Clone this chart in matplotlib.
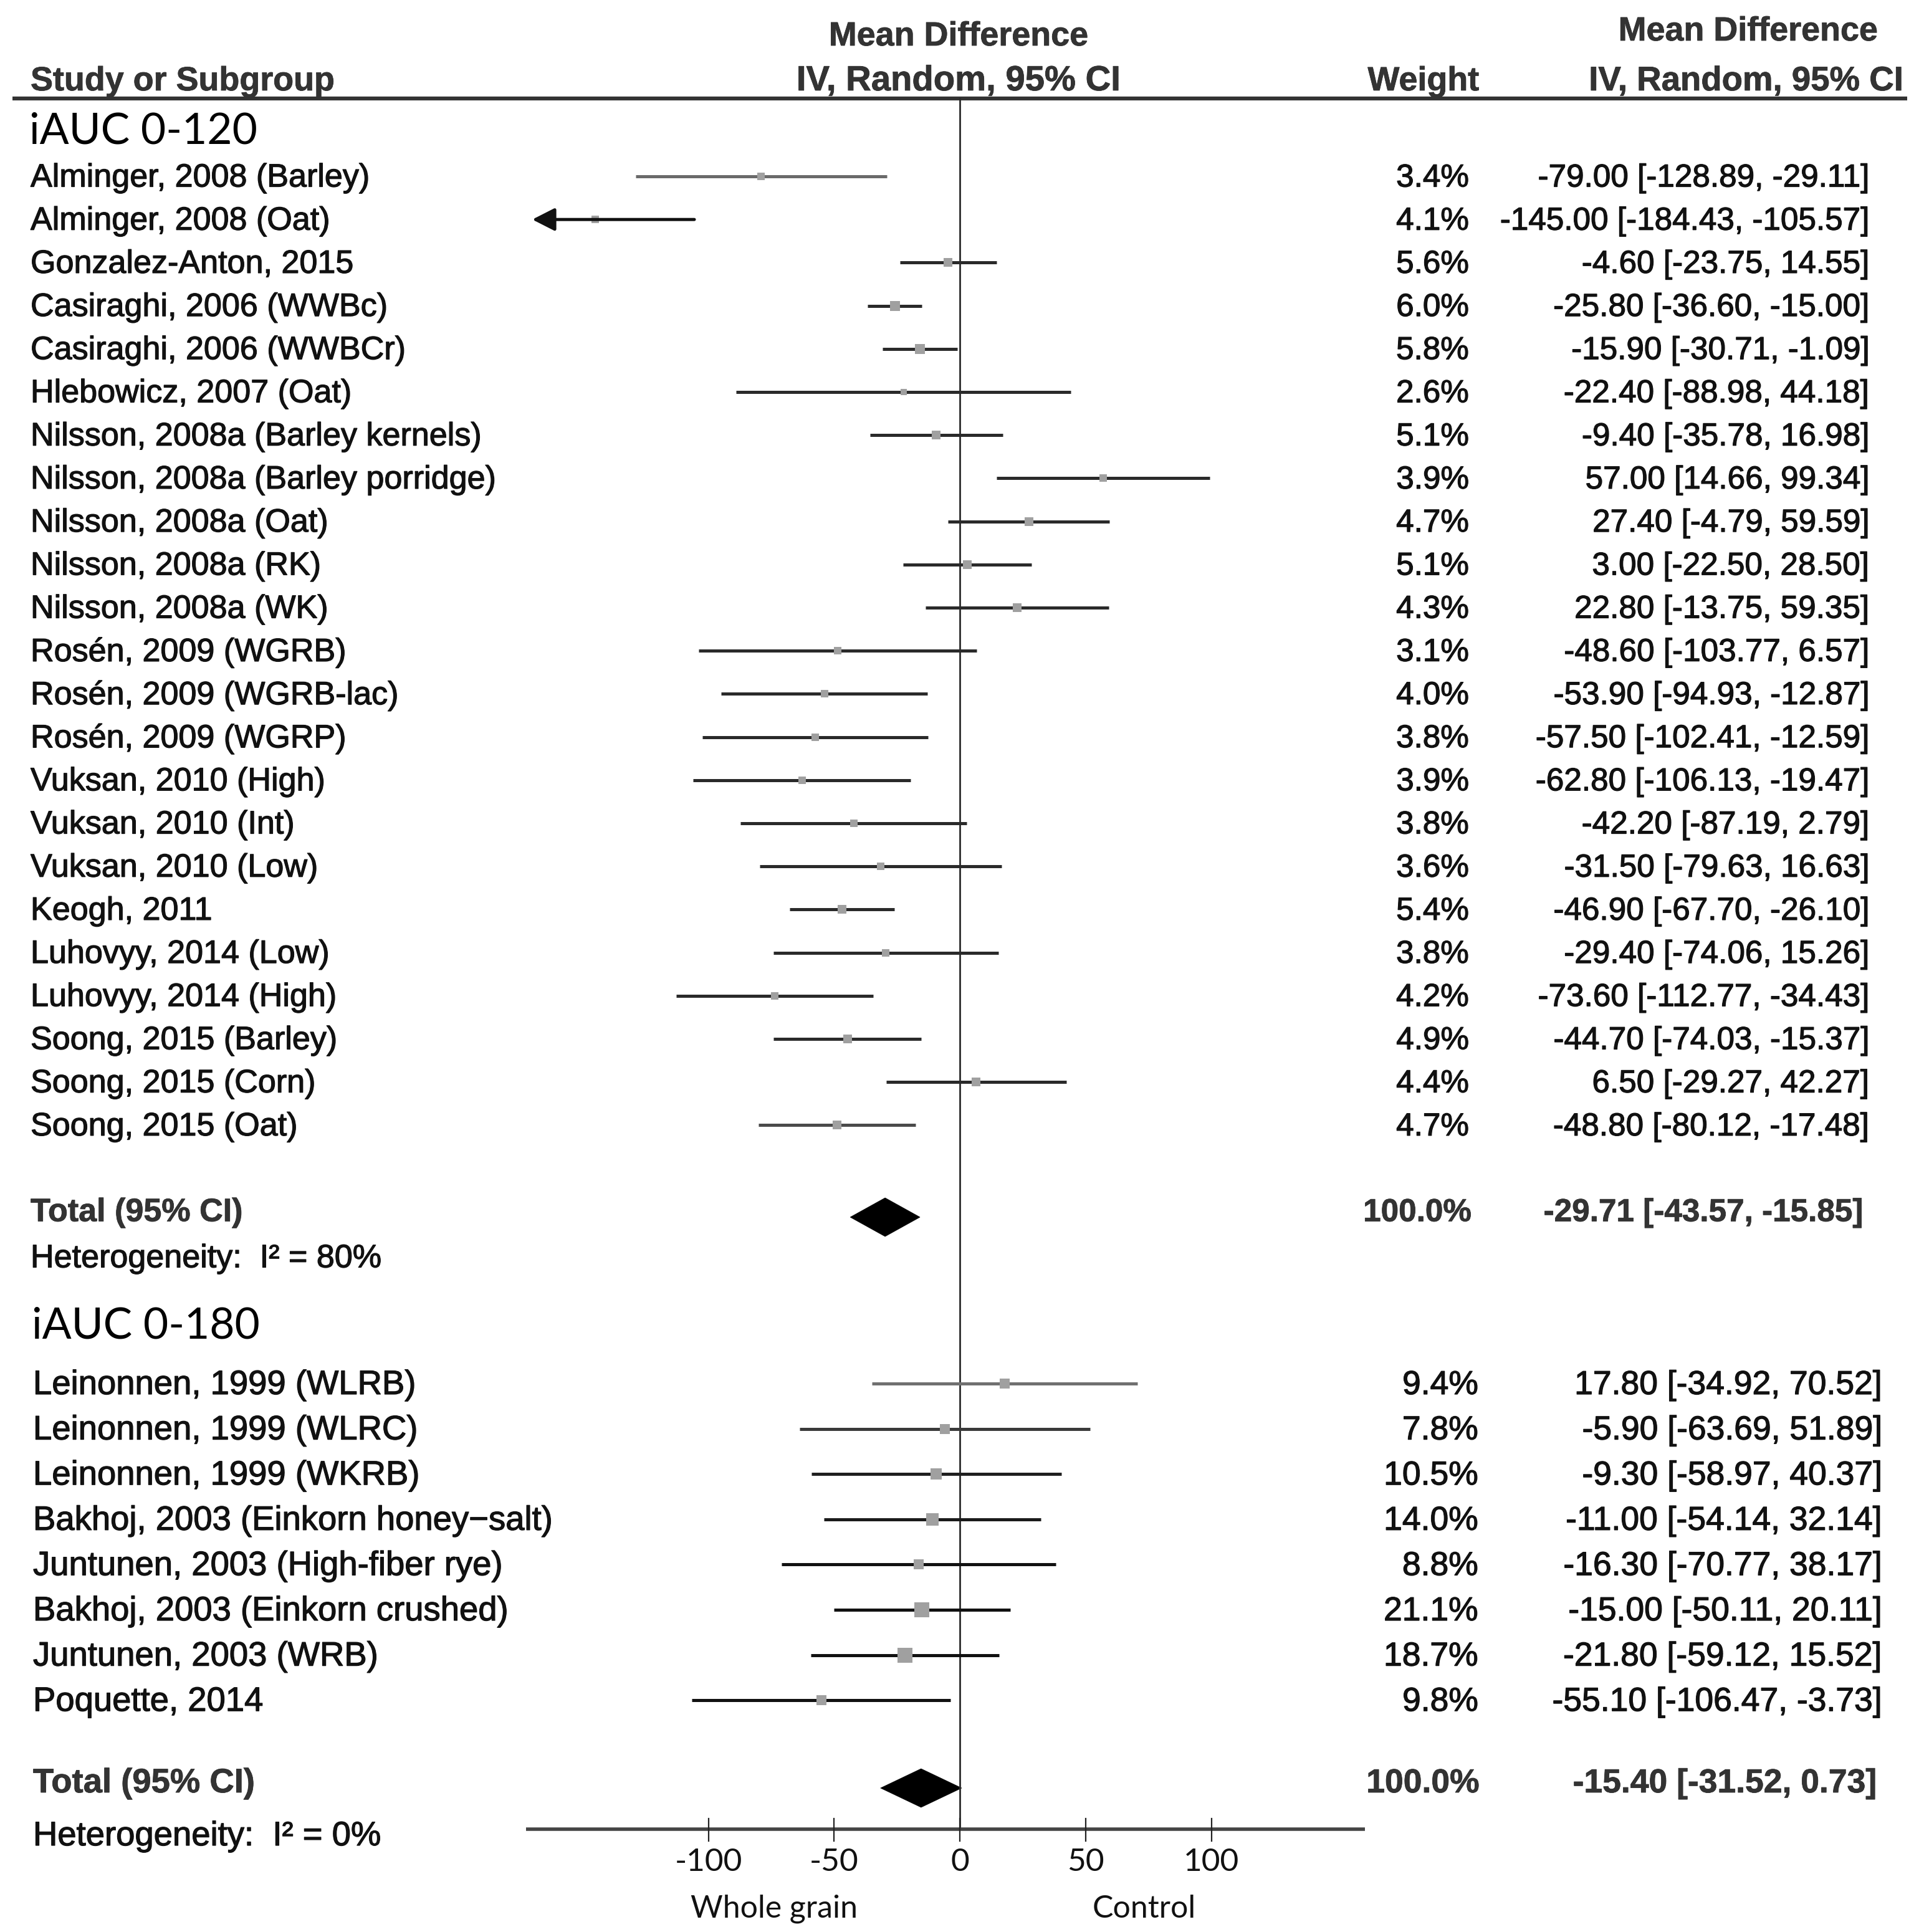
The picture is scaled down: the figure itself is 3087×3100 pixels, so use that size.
import matplotlib
matplotlib.use("Agg")
import matplotlib.pyplot as plt
from matplotlib.patches import Polygon
import matplotlib.patheffects as pe

# ---------------- data ----------------
g1_labels = ["Alminger, 2008 (Barley)", "Alminger, 2008 (Oat)", "Gonzalez-Anton, 2015",
             "Casiraghi, 2006 (WWBc)", "Casiraghi, 2006 (WWBCr)", "Hlebowicz, 2007 (Oat)",
             "Nilsson, 2008a (Barley kernels)", "Nilsson, 2008a (Barley porridge)",
             "Nilsson, 2008a (Oat)", "Nilsson, 2008a (RK)", "Nilsson, 2008a (WK)",
             "Rosén, 2009 (WGRB)", "Rosén, 2009 (WGRB-lac)", "Rosén, 2009 (WGRP)",
             "Vuksan, 2010 (High)", "Vuksan, 2010 (Int)", "Vuksan, 2010 (Low)",
             "Keogh, 2011", "Luhovyy, 2014 (Low)", "Luhovyy, 2014 (High)",
             "Soong, 2015 (Barley)", "Soong, 2015 (Corn)", "Soong, 2015 (Oat)"]
g1_md = [-79.00, -145.00, -4.60, -25.80, -15.90, -22.40, -9.40, 57.00, 27.40, 3.00, 22.80,
         -48.60, -53.90, -57.50, -62.80, -42.20, -31.50, -46.90, -29.40, -73.60, -44.70, 6.50, -48.80]
g1_lo = [-128.89, -184.43, -23.75, -36.60, -30.71, -88.98, -35.78, 14.66, -4.79, -22.50, -13.75,
         -103.77, -94.93, -102.41, -106.13, -87.19, -79.63, -67.70, -74.06, -112.77, -74.03, -29.27, -80.12]
g1_hi = [-29.11, -105.57, 14.55, -15.00, -1.09, 44.18, 16.98, 99.34, 59.59, 28.50, 59.35,
         6.57, -12.87, -12.59, -19.47, 2.79, 16.63, -26.10, 15.26, -34.43, -15.37, 42.27, -17.48]
g1_w = [3.4, 4.1, 5.6, 6.0, 5.8, 2.6, 5.1, 3.9, 4.7, 5.1, 4.3, 3.1, 4.0, 3.8, 3.9, 3.8, 3.6,
        5.4, 3.8, 4.2, 4.9, 4.4, 4.7]
g1_total = (-29.71, -43.57, -15.85)
g1_i2 = 80

g2_labels = ["Leinonnen, 1999 (WLRB)", "Leinonnen, 1999 (WLRC)", "Leinonnen, 1999 (WKRB)",
             "Bakhoj, 2003 (Einkorn honey\u2212salt)", "Juntunen, 2003 (High-fiber rye)",
             "Bakhoj, 2003 (Einkorn crushed)", "Juntunen, 2003 (WRB)", "Poquette, 2014"]
g2_md = [17.80, -5.90, -9.30, -11.00, -16.30, -15.00, -21.80, -55.10]
g2_lo = [-34.92, -63.69, -58.97, -54.14, -70.77, -50.11, -59.12, -106.47]
g2_hi = [70.52, 51.89, 40.37, 32.14, 38.17, 20.11, 15.52, -3.73]
g2_w = [9.4, 7.8, 10.5, 14.0, 8.8, 21.1, 18.7, 9.8]
g2_total = (-15.40, -31.52, 0.73)
g2_i2 = 0

group_titles = ["iAUC 0-120", "iAUC 0-180"]
ticks = [-100, -50, 0, 50, 100]
axis_range = (-172.5, 161.0)
clip_low = -170.0
side_labels = ["Whole grain", "Control"]

# ---------------- styles / layout ----------------
g1_colors = ["#6a6a6a", "#111111", "#2a2a2a", "#2a2a2a", "#2a2a2a", "#2a2a2a", "#2a2a2a",
             "#2a2a2a", "#2a2a2a", "#2a2a2a", "#2a2a2a", "#2a2a2a", "#2a2a2a", "#2a2a2a",
             "#2a2a2a", "#2a2a2a", "#2a2a2a", "#2a2a2a", "#2a2a2a", "#2a2a2a", "#2a2a2a",
             "#2a2a2a", "#4a4a4a"]
g2_colors = ["#707070", "#3a3a3a", "#202020", "#1a1a1a", "#111111", "#111111", "#111111", "#111111"]

W, H = 3087, 3100
DPI = 100
X0, SCALE = 1540.0, 4.035   # pixel of zero, pixels per unit


def X(px):
    return (px - X0) / SCALE


ARIAL = ["Liberation Sans", "DejaVu Sans"]
CALIBRI = ["Lato", "DejaVu Sans"]
TXT = "#111111"
HDR = "#333333"
HFS = 38.8
THICK = [pe.withStroke(linewidth=0.9, foreground=TXT)]
THICK_H = [pe.withStroke(linewidth=0.6, foreground=HDR)]

fig = plt.figure(figsize=(W / DPI, H / DPI), dpi=DPI)
ax = fig.add_axes([0, 0, 1, 1])
ax.set_xlim(X(0), X(W))
ax.set_ylim(H, 0)
ax.axis("off")


def hdr(px, y, s, ha, fs=HFS):
    ax.text(X(px), y, s, ha=ha, va="center", fontsize=fs, fontweight="bold",
            color=HDR, family=ARIAL, path_effects=THICK_H)


# headers
hdr(1538, 59, "Mean Difference", "center")
hdr(1538, 131, "IV, Random, 95% CI", "center", 40.5)
hdr(49, 131, "Study or Subgroup", "left")
hdr(2373, 131, "Weight", "right")
hdr(3013, 51, "Mean Difference", "right")
hdr(3054, 131, "IV, Random, 95% CI", "right", 39.3)
ax.plot([X(20), X(3060)], [158, 158], color="#333333", lw=4.5, solid_capstyle="butt")

# zero line
ax.plot([0, 0], [158, 2935], color="#2a2a2a", lw=2.0)

sq = 72.0 / DPI  # px -> points


def draw_group(labels, md, lo, hi, w, colors, total, i2, title, msc,
               y_title, y0, step, y_total, y_het, x_lab, x_w, x_ci, x_wt, x_cit, fs, fsn):
    ax.text(X(x_lab - 2), y_title, title, ha="left", va="center", fontsize=50,
            color="#000000", family=CALIBRI)
    for i, lab in enumerate(labels):
        y = y0 + i * step
        ax.text(X(x_lab), y + 3, lab, ha="left", va="center", fontsize=fs, color=TXT,
                family=ARIAL, path_effects=THICK)
        l, h = lo[i], hi[i]
        if l < axis_range[0]:
            ax.annotate("", xy=(clip_low, y), xytext=(h, y),
                        arrowprops=dict(arrowstyle="-|>,head_length=0.55,head_width=0.28",
                                        color=colors[i], lw=3.6, shrinkA=0, shrinkB=0,
                                        mutation_scale=40))
        else:
            ax.plot([l, h], [y, y], color=colors[i], lw=3.6, solid_capstyle="butt")
        ax.plot([md[i]], [y], marker="s", markersize=msc * w[i] ** 0.5 * sq,
                color="#a0a0a0", markeredgewidth=0)
        ax.text(X(x_w), y + 3, f"{w[i]:.1f}%", ha="right", va="center", fontsize=fsn,
                color=TXT, family=ARIAL, path_effects=THICK)
        ax.text(X(x_ci), y + 3, f"{md[i]:.2f} [{l:.2f}, {h:.2f}]", ha="right", va="center",
                fontsize=fsn, color=TXT, family=ARIAL, path_effects=THICK)
    m, l, h = total
    yc = y_total + 10
    ax.add_patch(Polygon([[l, yc], [m, yc - 31], [h, yc], [m, yc + 31]], closed=True,
                         facecolor="black", edgecolor="black", lw=0.5))
    ax.text(X(x_lab), y_total + 3, "Total (95% CI)", ha="left", va="center", fontsize=fs,
            fontweight="bold", color=HDR, family=ARIAL, path_effects=THICK_H)
    ax.text(X(x_wt), y_total + 3, "100.0%", ha="right", va="center", fontsize=fsn,
            fontweight="bold", color=HDR, family=ARIAL, path_effects=THICK_H)
    ax.text(X(x_cit), y_total + 3, f"{m:.2f} [{l:.2f}, {h:.2f}]", ha="right", va="center",
            fontsize=fsn, fontweight="bold", color=HDR, family=ARIAL, path_effects=THICK_H)
    ax.text(X(x_lab), y_het + 3, f"Heterogeneity:  I\u00b2 = {i2}%", ha="left", va="center",
            fontsize=fs, color=TXT, family=ARIAL, path_effects=THICK)


draw_group(g1_labels, g1_md, g1_lo, g1_hi, g1_w, g1_colors, g1_total, g1_i2, group_titles[0],
           6.3, 211, 283, 69.2, 1943, 2017, 49, 2357, 2999, 2361, 2989, 37.5, 36.9)
draw_group(g2_labels, g2_md, g2_lo, g2_hi, g2_w, g2_colors, g2_total, g2_i2, group_titles[1],
           5.4, 2128, 2220, 72.6, 2859, 2944, 53, 2372, 3021, 2374, 3011, 39.2, 38.5)

# bottom axis
ax.plot(list(axis_range), [2935, 2935], color="#444444", lw=4.0, solid_capstyle="butt")
for t in ticks:
    ax.plot([t, t], [2918, 2954], color="#222222", lw=1.6)
    ax.text(t, 2988, f"{t}", ha="center", va="center", fontsize=37,
            color="#111111", family=CALIBRI)
ax.text(X(1242), 3063, side_labels[0], ha="center", va="center", fontsize=36,
        color="#111111", family=CALIBRI)
ax.text(X(1836), 3063, side_labels[1], ha="center", va="center", fontsize=36,
        color="#111111", family=CALIBRI)

fig.savefig("out.png", dpi=DPI, facecolor="white")
